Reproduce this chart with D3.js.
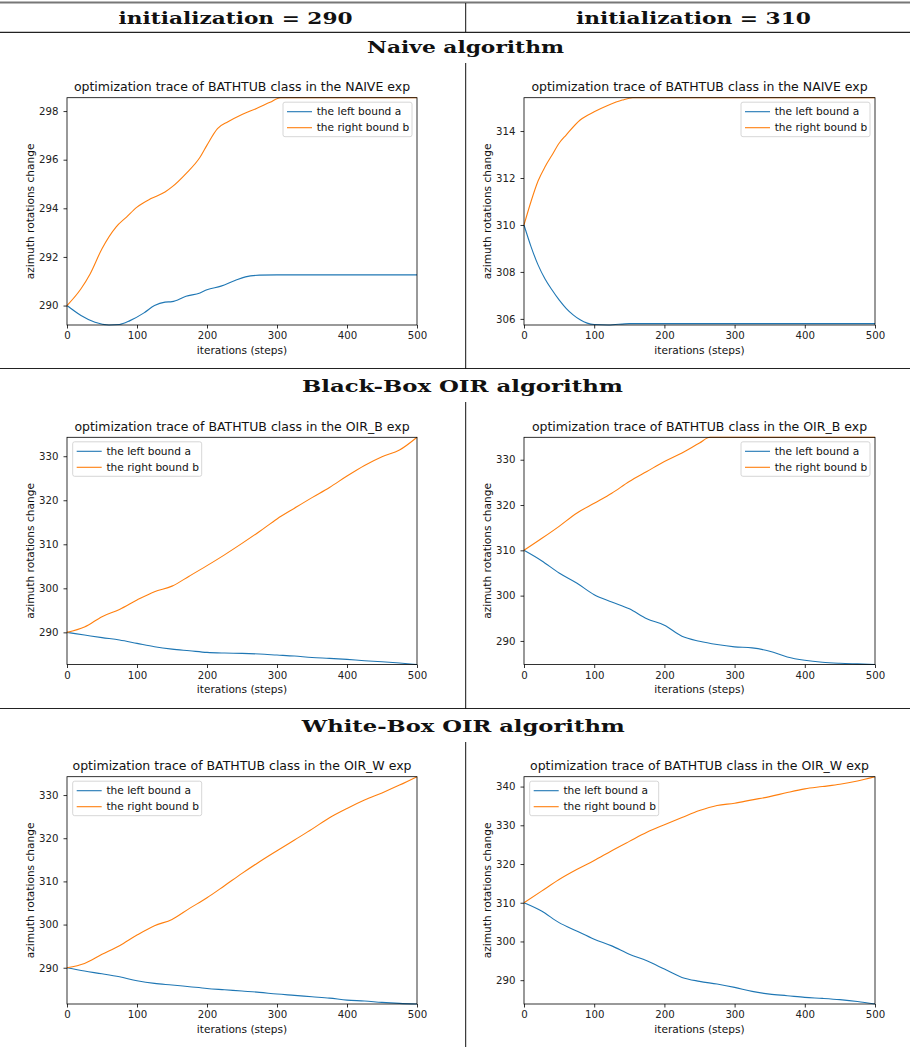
<!DOCTYPE html>
<html><head><meta charset="utf-8">
<script src="https://cdn.jsdelivr.net/npm/d3@7"></script>
<style>body{margin:0;background:#fff}svg{display:block}</style>
</head><body>
<script>
// ---------- data ----------
const columnHeaders = ["initialization = 290", "initialization = 310"];
const sectionHeaders = ["Naive algorithm", "Black-Box OIR algorithm", "White-Box OIR algorithm"];
const panelTitles = [
  "optimization trace of BATHTUB class in the NAIVE exp",
  "optimization trace of BATHTUB class in the NAIVE exp",
  "optimization trace of BATHTUB class in the OIR_B exp",
  "optimization trace of BATHTUB class in the OIR_B exp",
  "optimization trace of BATHTUB class in the OIR_W exp",
  "optimization trace of BATHTUB class in the OIR_W exp"
];
const seriesNames = ["the left bound a", "the right bound b"];
const xTicks = [0, 100, 200, 300, 400, 500];
const yTicksNaive290 = [290, 292, 294, 296, 298];
const yTicksNaive310 = [306, 308, 310, 312, 314];
const yTicksOirB290 = [290, 300, 310, 320, 330];
const yTicksOirB310 = [290, 300, 310, 320, 330];
const yTicksOirW290 = [290, 300, 310, 320, 330];
const yTicksOirW310 = [290, 300, 310, 320, 330, 340];

const steps25 = [0,25,50,75,100,125,150,175,200,225,250,275,300,325,350,375,400,425,450,475,500];

const naive290StepsA = [0,20,40,60,75,90,110,125,140,150,170,190,200,220,240,255,275,300,350,400,450,500];
const naive290A = [290,289.59,289.31,289.2,289.22,289.38,289.7,290.0,290.14,290.16,290.38,290.52,290.65,290.8,291.03,291.18,291.25,291.26,291.26,291.26,291.26,291.26];
const naive290StepsB = [0,20,33,50,70,85,100,120,140,150,170,190,200,215,230,250,270,290,305,350,400,450,500];
const naive290B = [290,290.69,291.3,292.34,293.23,293.64,294.05,294.4,294.67,294.88,295.43,296.1,296.6,297.28,297.56,297.86,298.1,298.36,298.55,298.55,298.55,298.55,298.55];

const naive310StepsA = [0,10,20,30,40,50,60,70,80,90,100,120,150,200,300,400,500];
const naive310A = [310,309.08,308.3,307.7,307.23,306.81,306.45,306.17,305.96,305.82,305.76,305.74,305.8,305.8,305.8,305.8,305.8];
const naive310StepsB = [0,10,20,30,40,50,60,80,100,120,140,155,200,300,400,500];
const naive310B = [310,311.0,311.87,312.48,312.98,313.48,313.83,314.47,314.82,315.1,315.32,315.42,315.42,315.42,315.42,315.42];

const oirB290A = [290,289.4,288.8,288.26,287.5,286.74,286.2,285.83,285.45,285.3,285.23,285.08,284.85,284.62,284.3,284.1,283.86,283.56,283.33,283.03,282.7];
const oirB290B = [290,291.2,293.56,295.2,297.35,299.24,300.5,302.8,305.15,307.6,310.2,312.9,315.76,318.2,320.6,322.9,325.5,327.9,329.9,331.4,334.3];

const oirB310A = [310,307.7,305,302.8,300.2,298.6,297.1,294.9,293.46,291.03,289.93,289.2,288.7,288.46,287.72,286.47,285.74,285.3,285.07,284.93,284.8];
const oirB310StepsB = [0,25,50,75,100,125,150,175,200,225,250,265,300,350,400,450,500];
const oirB310B = [310,312.6,315.3,318.2,320.4,322.6,325.2,327.4,329.6,331.5,333.7,334.95,334.95,334.95,334.95,334.95,334.95];

const oirW290A = [290,289.23,288.6,287.9,287.0,286.37,286.0,285.6,285.2,284.9,284.6,284.3,283.9,283.6,283.28,282.97,282.5,282.3,281.97,281.74,281.6];
const oirW290B = [290,291.0,293.1,295.1,297.57,299.73,301.2,303.75,306.2,309.0,311.85,314.55,317.1,319.6,322.1,324.75,326.9,328.84,330.5,332.3,334.25];

const oirW310A = [310,307.86,304.86,302.7,300.57,298.86,296.7,295.0,292.86,290.7,289.7,289.0,288.14,287.1,286.4,286.0,285.57,285.3,284.97,284.5,283.85];
const oirW310B = [310,313,316,318.57,320.9,323.45,325.85,328.2,330.14,332.0,333.8,335.1,335.7,336.57,337.4,338.46,339.4,340.0,340.6,341.46,342.55];

const colors = ["#1f77b4", "#ff7f0e"];

// ---------- layout ----------
const W = 910, H = 1047;
const svg = d3.select("body").append("svg").attr("width", W).attr("height", H);

const panels = [
  {x0:67,  x1:417, y0:97.7, y1:325, title:panelTitles[0], yt:yTicksNaive290, legend:"right",
   a:[naive290StepsA, naive290A], b:[naive290StepsB, naive290B]},
  {x0:524, x1:875, y0:97.7, y1:325, title:panelTitles[1], yt:yTicksNaive310, legend:"right",
   a:[naive310StepsA, naive310A], b:[naive310StepsB, naive310B]},
  {x0:67,  x1:417, y0:437.3, y1:664.5, title:panelTitles[2], yt:yTicksOirB290, legend:"left",
   a:[steps25, oirB290A], b:[steps25, oirB290B]},
  {x0:524, x1:875, y0:437.3, y1:664.5, title:panelTitles[3], yt:yTicksOirB310, legend:"right",
   a:[steps25, oirB310A], b:[oirB310StepsB, oirB310B]},
  {x0:67,  x1:417, y0:776.7, y1:1004, title:panelTitles[4], yt:yTicksOirW290, legend:"left",
   a:[steps25, oirW290A], b:[steps25, oirW290B]},
  {x0:524, x1:875, y0:776.7, y1:1004, title:panelTitles[5], yt:yTicksOirW310, legend:"left",
   a:[steps25, oirW310A], b:[steps25, oirW310B]}
];

// ---------- table rules & headings ----------
const rules = svg.append("g");
rules.append("line").attr("x1",0).attr("x2",W).attr("y1",2.5).attr("y2",2.5).attr("stroke","#777").attr("stroke-width",2);
rules.append("line").attr("x1",0).attr("x2",W).attr("y1",32.3).attr("y2",32.3).attr("stroke","#222").attr("stroke-width",1.3);
rules.append("line").attr("x1",0).attr("x2",W).attr("y1",368.5).attr("y2",368.5).attr("stroke","#222").attr("stroke-width",1.1);
rules.append("line").attr("x1",0).attr("x2",W).attr("y1",708.5).attr("y2",708.5).attr("stroke","#222").attr("stroke-width",1.1);
[[3,32],[63,369],[402,709],[742,1047]].forEach(s=>{
  rules.append("line").attr("x1",465.7).attr("x2",465.7).attr("y1",s[0]).attr("y2",s[1]).attr("stroke","#111").attr("stroke-width",1);
});

function heading(text, cx, baseline, width){
  svg.append("text").attr("x",cx - width/2).attr("y",baseline)
    .attr("font-family","'DejaVu Serif', serif").attr("font-weight","bold").attr("font-size",16)
    .attr("textLength",width).attr("lengthAdjust","spacingAndGlyphs")
    .attr("fill","#111").text(text);
}
heading(columnHeaders[0], 235.5, 23.5, 234);
heading(columnHeaders[1], 693.5, 23.5, 235);
heading(sectionHeaders[0], 465.5, 53, 197);
heading(sectionHeaders[1], 462.5, 392.3, 321);
heading(sectionHeaders[2], 463.3, 732.3, 323);

// ---------- panels ----------
const FONT = "'DejaVu Sans', sans-serif";
panels.forEach(p=>{
  const g = svg.append("g");
  const x = d3.scaleLinear().domain([0,500]).range([p.x0,p.x1]);
  const all = p.a[1].concat(p.b[1]);
  const y = d3.scaleLinear().domain([d3.min(all), d3.max(all)]).range([p.y1,p.y0]);

  const line = d3.line().x(d=>x(d[0])).y(d=>y(d[1])).curve(d3.curveMonotoneX);
  [p.a, p.b].forEach((s,i)=>{
    const pts = s[0].map((t,k)=>[t, s[1][k]]);
    g.append("path").datum(pts).attr("d",line).attr("fill","none")
      .attr("stroke",colors[i]).attr("stroke-width",1.1).attr("stroke-linejoin","round");
  });

  // axes
  const xa = g.append("g").attr("transform",`translate(0,${p.y1})`)
    .call(d3.axisBottom(x).tickValues(xTicks).tickSize(3.5).tickPadding(3.5).tickFormat(d3.format("d")));
  const ya = g.append("g").attr("transform",`translate(${p.x0},0)`)
    .call(d3.axisLeft(y).tickValues(p.yt).tickSize(3.5).tickPadding(5).tickFormat(d3.format("d")));
  [xa,ya].forEach(a=>{
    a.select(".domain").remove();
    a.selectAll("line").attr("stroke","#000").attr("stroke-width",0.8);
    a.selectAll("text").attr("font-family",FONT).attr("font-size",10.2).attr("fill","#222");
  });

  // frame
  g.append("rect").attr("x",p.x0).attr("y",p.y0).attr("width",p.x1-p.x0).attr("height",p.y1-p.y0)
    .attr("fill","none").attr("stroke","#000").attr("stroke-width",0.8);

  // labels
  const cx = (p.x0+p.x1)/2;
  g.append("text").attr("x",cx).attr("y",p.y0-6.5).attr("text-anchor","middle")
    .attr("font-family",FONT).attr("font-size",12.5).attr("fill","#111").text(p.title);
  g.append("text").attr("x",cx).attr("y",p.y1+28.5).attr("text-anchor","middle")
    .attr("font-family",FONT).attr("font-size",10.6).attr("fill","#111").text("iterations (steps)");
  g.append("text").attr("transform",`translate(${p.x0-33},${(p.y0+p.y1)/2}) rotate(-90)`)
    .attr("text-anchor","middle").attr("font-family",FONT).attr("font-size",10.6).attr("fill","#111")
    .text("azimuth rotations change");

  // legend
  const lw = 129, lh = 34.5;
  const lx = p.legend === "right" ? p.x1 - 5 - lw : p.x0 + 5.7;
  const ly = p.y0 + 4.5;
  const lg = g.append("g").attr("transform",`translate(${lx},${ly})`);
  lg.append("rect").attr("width",lw).attr("height",lh).attr("rx",2)
    .attr("fill","#fff").attr("fill-opacity",0.85).attr("stroke","#ccc").attr("stroke-width",0.8);
  seriesNames.forEach((n,i)=>{
    const cy = 9.5 + i*16;
    lg.append("line").attr("x1",4).attr("x2",29).attr("y1",cy).attr("y2",cy)
      .attr("stroke",colors[i]).attr("stroke-width",1.1);
    lg.append("text").attr("x",33.7).attr("y",cy+3.7).attr("font-family",FONT).attr("font-size",10.6)
      .attr("fill","#111").text(n);
  });
});
</script>
</body></html>
